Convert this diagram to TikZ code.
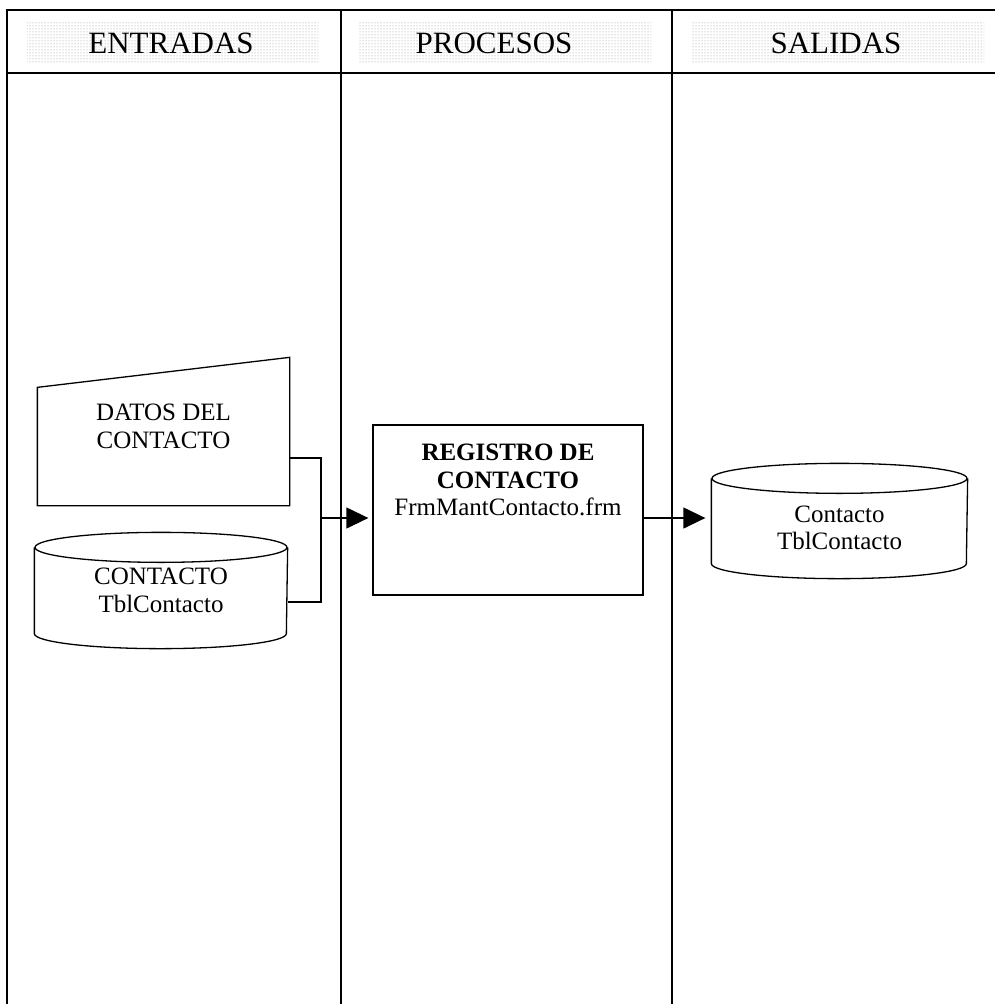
\documentclass[tikz,border=0pt]{standalone}
\usepackage{fontspec}
\setmainfont{Liberation Serif}
\usetikzlibrary{arrows.meta,calc,patterns}

\tikzset{
  cabecera/.style={font=\fontsize{31}{36}\selectfont, inner sep=0pt},
  texto/.style={font=\fontsize{25}{27.5}\selectfont, align=center, inner sep=0pt},
  caja/.style={inner sep=0pt, line width=1.3pt},
  flecha/.style={line width=1.3pt, -{Triangle[length=22pt,width=21pt]}},
  trama/.style={pattern=dots, pattern color=black!45},
  marco/.style={line width=1.6pt},
}

\begin{document}
\begin{tikzpicture}[x=1pt, y=-1pt]
  \useasboundingbox (0,0) rectangle (995,1007);

  % cabeceras
  \foreach \a/\b in {27/318, 358/651, 692/984}
    \fill[trama] (\a,21) rectangle (\b,62);
  \node[cabecera] (entradas) at (171,43) {ENTRADAS};
  \node[cabecera] (procesos) at (494,43) {PROCESOS};
  \node[cabecera] (salidas)  at (836,43) {SALIDAS};

  \draw[line width=2.2pt] (6,10) -- (995,10);
  \draw[line width=2.2pt] (6,73) -- (995,73);
  \foreach \x in {7, 341, 672}
    \draw[marco] (\x,9) -- (\x,1004);

  % entrada manual
  \node[caja, minimum width=251pt, minimum height=147pt] (datos) at (163.5,431.5) {};
  \draw[caja] (datos.south west) -- (datos.south east) -- (datos.north east)
              -- ([yshift=-30pt]datos.north west) -- cycle;
  \node[texto] (datostxt) at ($(datos.center)+(0,-5)$) {DATOS DEL\\CONTACTO};

  % tabla de entrada
  \node[caja, minimum width=252pt, minimum height=115pt] (tabla) at (161,590.5) {};
  \draw[caja] ([yshift=-15pt]tabla.north west) -- ([yshift=15pt]tabla.south west)
              arc[start angle=180, end angle=360, x radius=126pt, y radius=15pt]
              -- ([yshift=-15pt]tabla.north east);
  \draw[caja] ([yshift=-15pt]tabla.north) ellipse[x radius=126pt, y radius=15pt];
  \node[texto] (tablatxt) at ($(tabla.center)+(0,0)$) {CONTACTO\\TblContacto};

  % proceso
  \node[caja, draw, minimum width=270pt, minimum height=170pt] (registro) at (508,510) {};
  \node[texto] (registrotxt) at ($(registro.center)+(0,-30)$)
       {\textbf{REGISTRO DE}\\\textbf{CONTACTO}\\FrmMantContacto.frm};

  % tabla de salida
  \node[caja, minimum width=255pt, minimum height=114pt] (salida) at (839.5,521) {};
  \draw[caja] ([yshift=-15pt]salida.north west) -- ([yshift=15pt]salida.south west)
              arc[start angle=180, end angle=360, x radius=127.5pt, y radius=15pt]
              -- ([yshift=-15pt]salida.north east);
  \draw[caja] ([yshift=-15pt]salida.north) ellipse[x radius=127.5pt, y radius=15pt];
  \node[texto] (salidatxt) at ($(salida.center)+(0,7)$) {Contacto\\TblContacto};

  % conectores
  \coordinate (junta) at (321,518);
  \draw[caja] ([yshift=-26.5pt]datos.east) -| (junta) |- ([yshift=-11.5pt]tabla.east);
  \draw[flecha, shorten >=4pt] (junta) -- (junta -| registro.west);
  \draw[flecha, shorten >=6pt] (registro.east |- junta) -- (junta -| salida.west);
\end{tikzpicture}
\end{document}
